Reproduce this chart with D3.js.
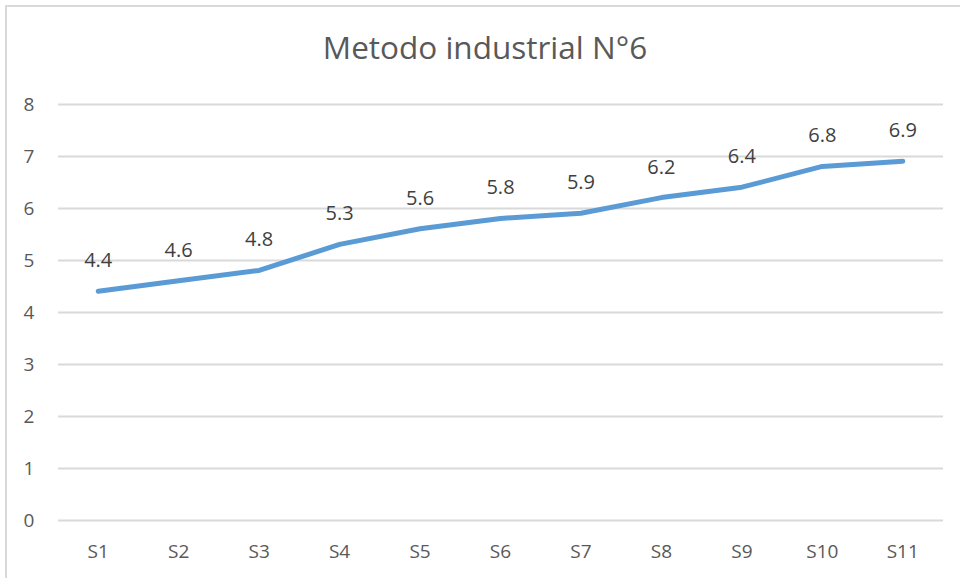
<!DOCTYPE html>
<html><head><meta charset="utf-8">
<script src="https://d3js.org/d3.v7.min.js"></script>
<style>body{margin:0;background:#fff}svg{display:block}</style>
</head><body>
<script>
const categories = ["S1","S2","S3","S4","S5","S6","S7","S8","S9","S10","S11"];
const values = [4.4,4.6,4.8,5.3,5.6,5.8,5.9,6.2,6.4,6.8,6.9];
const yTicks = [0,1,2,3,4,5,6,7,8];
const title = "Metodo industrial N°6";

const W = 960, H = 578;
const font = "'Open Sans', 'Liberation Sans', sans-serif";
const svg = d3.select("body").append("svg").attr("width", W).attr("height", H);
svg.append("rect").attr("x",6).attr("y",6).attr("width",W+10).attr("height",H+10)
  .attr("fill","#fff").attr("stroke","#d9d9d9").attr("stroke-width",2);

const m = {left:58, right:943, top:104, bottom:520};
const x = d3.scaleBand().domain(categories).range([m.left, m.right]);
const y = d3.scaleLinear().domain([0,8]).range([m.bottom, m.top]);

svg.append("text").attr("x", 485).attr("y", 59).attr("text-anchor","middle")
  .attr("font-family", font).attr("font-size", 31.5).attr("fill","#595959").text(title);

const ya = svg.append("g").attr("transform",`translate(${m.left},0)`)
  .call(d3.axisLeft(y).tickValues(yTicks).tickSize(-(m.right-m.left)).tickFormat(d3.format("d")));
ya.select(".domain").remove();
ya.selectAll(".tick line").attr("stroke","#d9d9d9").attr("stroke-width",2);
ya.selectAll(".tick text").attr("x",-29).attr("text-anchor","middle").attr("font-family",font)
  .attr("font-size",19).attr("fill","#595959");

const xa = svg.append("g").attr("transform",`translate(0,${m.bottom})`)
  .call(d3.axisBottom(x).tickSize(0));
xa.select(".domain").remove();
xa.selectAll(".tick text").attr("dy",0).attr("y",38).attr("font-family",font)
  .attr("font-size",19).attr("fill","#595959");

const cx = d => x(d) + x.bandwidth()/2;
svg.append("path").datum(values)
  .attr("fill","none").attr("stroke","#5b9bd5").attr("stroke-width",5).attr("stroke-linecap","round").attr("stroke-linejoin","round")
  .attr("d", d3.line().x((d,i)=>cx(categories[i])).y(d=>y(d)));

svg.append("g").selectAll("text").data(values).join("text")
  .attr("x",(d,i)=>cx(categories[i])).attr("y",d=>y(d)-24)
  .attr("text-anchor","middle").attr("font-family",font).attr("font-size",20).attr("fill","#404040")
  .text(d=>d3.format(".1f")(d));
</script>
</body></html>
